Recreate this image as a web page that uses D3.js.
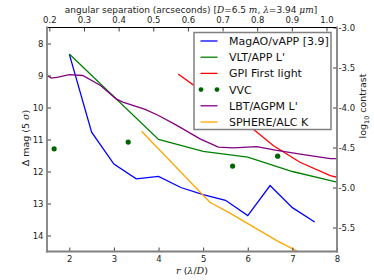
<!DOCTYPE html>
<html>
<head>
<meta charset="utf-8">
<script src="https://cdn.jsdelivr.net/npm/d3@7"></script>
<style>
  body { margin: 0; background: #fff; }
  svg { font-family: "DejaVu Sans", sans-serif; }
</style>
</head>
<body>
<svg id="chart" width="374" height="280"></svg>
<script>
// series values: [r (lambda/D), delta mag]
const magaoVapp = [[2.0, 8.33], [2.5, 10.77], [3.0, 11.77], [3.5, 12.23], [4.0, 12.15],
  [4.5, 12.5], [5.0, 12.72], [5.5, 12.9], [6.0, 13.38], [6.5, 12.44], [7.0, 13.13], [7.5, 13.58]];
const vltApp = [[2.0, 8.33], [4.0, 11.0], [5.0, 11.37], [6.0, 11.55], [6.5, 11.78], [7.0, 12.0], [8.0, 12.33]];
const gpi = [[4.44, 8.95], [5.0, 9.52], [5.5, 10.05], [6.16, 10.72], [6.57, 11.19], [7.17, 11.71],
  [7.85, 12.13], [8.0, 12.18]];
const vvc = [[1.66, 11.29], [3.32, 11.08], [5.66, 11.83], [6.67, 11.52]];
const lbtAgpm = [[1.5, 9.0], [1.6, 9.08], [1.75, 9.05], [2.0, 8.97], [2.3, 9.0], [2.7, 9.31],
  [3.05, 9.73], [3.2, 9.83], [3.7, 10.06], [4.0, 10.25], [4.41, 10.56], [4.93, 10.98],
  [5.34, 11.24], [5.68, 11.26], [6.2, 11.22], [6.65, 11.34], [7.25, 11.47], [7.85, 11.6], [8.0, 11.6]];
const sphereAlc = [[3.62, 10.74], [5.15, 12.96], [5.6, 13.3], [6.65, 14.16], [7.1, 14.49], [7.15, 14.52]];

const xTicks = [2, 3, 4, 5, 6, 7, 8];
const yTicks = [8, 9, 10, 11, 12, 13, 14];
const topTicks = [0.2, 0.3, 0.4, 0.5, 0.6, 0.7, 0.8, 0.9, 1.0];
const rightTicks = [-3.0, -3.5, -4.0, -4.5, -5.0, -5.5];

const legendItems = [
  { label: "MagAO/vAPP [3.9]", color: "#0000ff", data: magaoVapp },
  { label: "VLT/APP L'", color: "#008000", data: vltApp },
  { label: "GPI First light", color: "#ff0000", data: gpi },
  { label: "VVC", color: "#006400", data: vvc, dots: true },
  { label: "LBT/AGPM L'", color: "#800080", data: lbtAgpm },
  { label: "SPHERE/ALC K", color: "#ffa500", data: sphereAlc },
];

const svg = d3.select("#chart");
const m = { left: 47, right: 337, top: 27.5, bottom: 251.5 };

const x = d3.scaleLinear().domain([1.5, 8]).range([m.left, m.right]);
const y = d3.scaleLinear().domain([7.5, 14.5]).range([m.top, m.bottom]);
const xTop = d3.scaleLinear().domain([1.5 * 0.1288, 8 * 0.1288]).range([m.left, m.right]);
const yRight = d3.scaleLinear().domain([-3.0, -5.8]).range([m.top, m.bottom]);

svg.append("clipPath").attr("id", "clip")
  .append("rect")
  .attr("x", m.left).attr("y", m.top)
  .attr("width", m.right - m.left).attr("height", m.bottom - m.top);

const plot = svg.append("g").attr("clip-path", "url(#clip)");
const line = d3.line().x(d => x(d[0])).y(d => y(d[1]));

legendItems.forEach(s => {
  if (s.dots) {
    plot.selectAll(null).data(s.data).join("circle")
      .attr("cx", d => x(d[0])).attr("cy", d => y(d[1]))
      .attr("r", 2.6).attr("fill", s.color);
  } else {
    plot.append("path").datum(s.data)
      .attr("d", line)
      .attr("fill", "none")
      .attr("stroke", s.color)
      .attr("stroke-width", 1.3);
  }
});

// axes (ticks inward)
function styleAxis(g) {
  g.select(".domain").remove();
  g.selectAll(".tick line").attr("stroke", "#444");
  g.selectAll(".tick text").attr("fill", "#222").style("font-size", "8.5px")
    .style("font-family", "DejaVu Sans, sans-serif");
}

svg.append("g").attr("transform", `translate(0,${m.bottom})`)
  .call(d3.axisBottom(x).tickValues(xTicks).tickFormat(d3.format("d")).tickSizeInner(-4).tickPadding(4))
  .call(styleAxis);
svg.append("g").attr("transform", `translate(${m.left},0)`)
  .call(d3.axisLeft(y).tickValues(yTicks).tickFormat(d3.format("d")).tickSizeInner(-4).tickPadding(3.5))
  .call(styleAxis);
svg.append("g").attr("transform", `translate(0,${m.top})`)
  .call(d3.axisTop(xTop).tickValues(topTicks).tickFormat(d3.format(".1f")).tickSizeInner(-4).tickPadding(5))
  .call(styleAxis);
svg.append("g").attr("transform", `translate(${m.right},0)`)
  .call(d3.axisRight(yRight).tickValues(rightTicks).tickFormat(d => d.toFixed(1)).tickSizeInner(-4).tickPadding(1.5))
  .call(styleAxis);

// frame
svg.append("line").attr("x1", m.left).attr("x2", m.right).attr("y1", m.top).attr("y2", m.top)
  .attr("stroke", "#000").attr("stroke-width", 1);
[[m.left, m.top, m.left, m.bottom], [m.right, m.top, m.right, m.bottom], [m.left, m.bottom, m.right, m.bottom]]
  .forEach(([x1, y1, x2, y2]) => {
    svg.append("line").attr("x1", x1).attr("y1", y1).attr("x2", x2).attr("y2", y2)
      .attr("stroke", "#808080").attr("stroke-width", 1.8).attr("stroke-linecap", "square");
  });

// labels
const serif = "DejaVu Serif, serif";
const topLabel = svg.append("text").attr("x", 191).attr("y", 12.5).attr("text-anchor", "middle")
  .style("font-size", "9px").attr("fill", "#222");
topLabel.append("tspan").text("angular separation (arcseconds) [");
topLabel.append("tspan").style("font-style", "italic").style("font-family", serif).text("D");
topLabel.append("tspan").text("=6.5 ");
topLabel.append("tspan").style("font-style", "italic").style("font-family", serif).text("m");
topLabel.append("tspan").text(", ");
topLabel.append("tspan").style("font-style", "italic").style("font-family", serif).text("λ");
topLabel.append("tspan").text("=3.94 ");
topLabel.append("tspan").style("font-style", "italic").style("font-family", serif).text("μm");
topLabel.append("tspan").text("]");

const botLabel = svg.append("text").attr("x", 192).attr("y", 274).attr("text-anchor", "middle")
  .style("font-size", "9.5px").attr("fill", "#222");
botLabel.append("tspan").style("font-style", "italic").style("font-family", serif).text("r");
botLabel.append("tspan").text(" (");
botLabel.append("tspan").style("font-style", "italic").style("font-family", serif).text("λ");
botLabel.append("tspan").text("/");
botLabel.append("tspan").style("font-style", "italic").style("font-family", serif).text("D");
botLabel.append("tspan").text(")");

const yl = svg.append("text").attr("transform", "translate(29,138) rotate(-90)")
  .attr("text-anchor", "middle").style("font-size", "9.5px").attr("fill", "#222");
yl.append("tspan").text("Δ mag (5 ");
yl.append("tspan").style("font-style", "italic").style("font-family", serif).text("σ");
yl.append("tspan").text(")");

const rl = svg.append("text").attr("transform", "translate(366,106) rotate(-90)")
  .attr("text-anchor", "middle").style("font-size", "9.5px").attr("fill", "#222");
rl.append("tspan").text("log");
rl.append("tspan").attr("dy", 2.5).style("font-size", "6.5px").text("10");
rl.append("tspan").attr("dy", -2.5).text(" contrast");

// legend
const lg = svg.append("g");
lg.append("rect").attr("x", 194).attr("y", 32.5).attr("width", 137).attr("height", 97)
  .attr("fill", "#fff").attr("stroke", "#808080").attr("stroke-width", 1.5);
legendItems.forEach((s, i) => {
  const ly = 41 + i * 16.2;
  if (s.dots) {
    [201, 217].forEach(cx => lg.append("circle").attr("cx", cx).attr("cy", ly).attr("r", 2.4).attr("fill", s.color));
  } else {
    lg.append("line").attr("x1", 200.5).attr("x2", 217.5).attr("y1", ly).attr("y2", ly)
      .attr("stroke", s.color).attr("stroke-width", 1.3);
  }
  lg.append("text").attr("x", 229).attr("y", ly + 4).style("font-size", "11px").attr("fill", "#111")
    .text(s.label);
});
</script>
</body>
</html>
